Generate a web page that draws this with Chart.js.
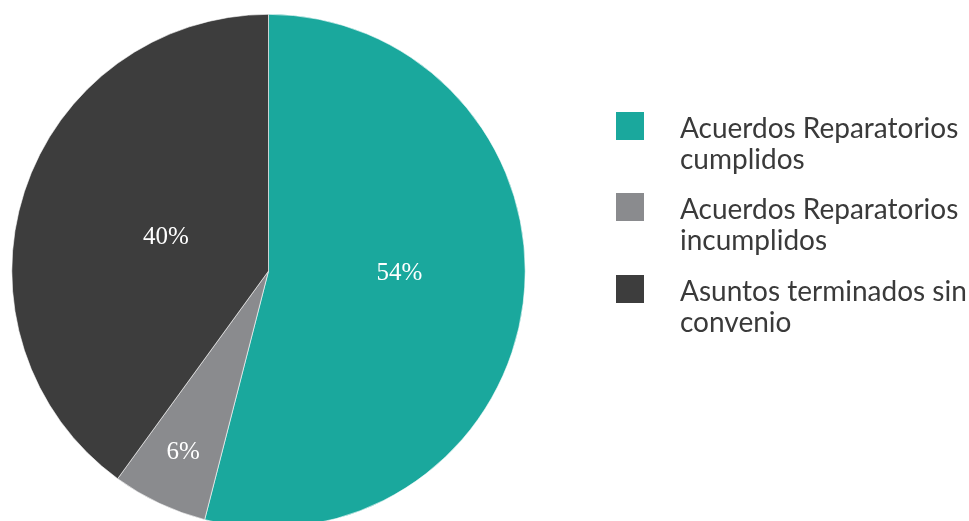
<!DOCTYPE html>
<html>
<head>
<meta charset="utf-8">
<script src="https://cdn.jsdelivr.net/npm/chart.js@4/dist/chart.umd.min.js"></script>
<style>
  html, body { margin: 0; padding: 0; background: #ffffff; overflow: hidden; }
  #wrap { position: relative; width: 969px; height: 540px; }
</style>
</head>
<body>
<div id="wrap"><canvas id="c" width="969" height="540"></canvas></div>
<script>
// Share of finished cases by outcome (percent)
const categories = [
  ['Acuerdos Reparatorios', 'cumplidos'],
  ['Acuerdos Reparatorios', 'incumplidos'],
  ['Asuntos terminados sin', 'convenio']
];
const shares = [54, 6, 40];
const sliceColors = ['#1aa89d', '#8a8b8e', '#3d3d3d'];

// Where each percentage label sits inside its slice: fraction of radius, angle nudge (deg)
const labelPlacement = [
  { r: 0.51, shift: -6 },
  { r: 0.78, shift: 0 },
  { r: 0.42, shift: 0 }
];

const sliceLabels = {
  id: 'sliceLabels',
  afterDatasetsDraw(chart) {
    const ctx = chart.ctx;
    const meta = chart.getDatasetMeta(0);
    ctx.save();
    ctx.fillStyle = '#ffffff';
    ctx.font = '25px "Liberation Serif", "DejaVu Serif", serif';
    ctx.textAlign = 'center';
    ctx.textBaseline = 'middle';
    meta.data.forEach((arc, i) => {
      const p = arc.getProps(['x', 'y', 'startAngle', 'endAngle', 'outerRadius'], true);
      const mid = (p.startAngle + p.endAngle) / 2 + labelPlacement[i].shift * Math.PI / 180;
      const rr = p.outerRadius * labelPlacement[i].r;
      ctx.fillText(shares[i] + '%', p.x + Math.cos(mid) * rr, p.y + Math.sin(mid) * rr);
    });
    ctx.restore();
  }
};

const sideLegend = {
  id: 'sideLegend',
  afterDraw(chart) {
    const ctx = chart.ctx;
    const x0 = 616, box = 28, textX = 680, lineH = 31;
    const tops = [112, 193, 275];
    ctx.save();
    ctx.font = '28px Lato, "Open Sans", sans-serif';
    ctx.textAlign = 'left';
    ctx.textBaseline = 'alphabetic';
    categories.forEach((lines, i) => {
      ctx.fillStyle = sliceColors[i];
      ctx.fillRect(x0, tops[i], box, box);
      ctx.fillStyle = '#3a3a3a';
      lines.forEach((t, j) => ctx.fillText(t, textX, tops[i] + 26 + j * lineH));
    });
    ctx.restore();
  }
};

new Chart(document.getElementById('c'), {
  type: 'pie',
  data: {
    labels: categories.map(l => l.join(' ')),
    datasets: [{
      data: shares,
      backgroundColor: sliceColors,
      borderColor: '#ffffff',
      borderWidth: 0.6
    }]
  },
  options: {
    responsive: false,
    animation: false,
    layout: { padding: { left: 11.5, right: 443.5, top: 14, bottom: 12 } },
    plugins: {
      legend: { display: false },
      tooltip: { enabled: false }
    }
  },
  plugins: [sliceLabels, sideLegend]
});
</script>
</body>
</html>
